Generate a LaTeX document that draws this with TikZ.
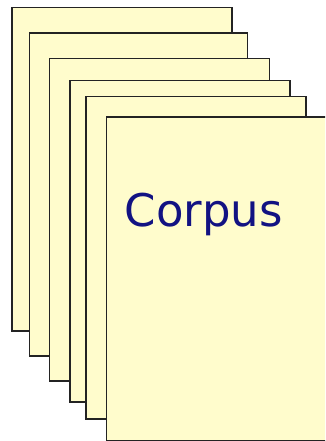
\documentclass[tikz,border=0pt]{standalone}
\usepackage{fontspec}
\newfontfamily\corpusfont{DejaVu Sans}
\definecolor{pagefill}{RGB}{255,252,204}
\definecolor{pageline}{RGB}{35,35,35}
\definecolor{textblue}{RGB}{18,18,130}
\begin{document}
\begin{tikzpicture}[x=1pt,y=-1pt,
  pagebox/.style={draw=pageline,fill=pagefill,line width=1.7pt}]
\useasboundingbox (0,0) rectangle (325,441);
\begin{scope}
\clip (0,0) rectangle (325,441);
\path[pagebox] (12,7.5) rectangle (232,331);
\path[pagebox] (29.5,33) rectangle (247.5,356);
\path[pagebox] (49.5,58.5) rectangle (269.5,381);
\path[pagebox] (70,80.5) rectangle (290,402);
\path[pagebox] (86,96.5) rectangle (306,419);
\path[pagebox] (106.5,117) rectangle (328,440.5);
\end{scope}
\node[anchor=base west,inner sep=0pt,text=textblue,font=\corpusfont\fontsize{45}{48}\selectfont] (label) at (124.5,226) {Corpus};
\end{tikzpicture}
\end{document}
